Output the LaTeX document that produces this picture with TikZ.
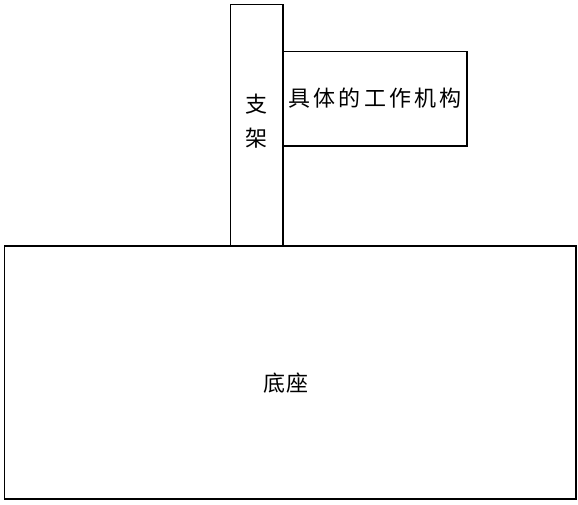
\documentclass[tikz,border=0pt]{standalone}
\usepackage{fontspec}
\newfontfamily\cjk{Noto Sans CJK SC}
\begin{document}
\begin{tikzpicture}[x=1pt,y=-1pt,
  box/.style={draw=black,line width=1.2pt},
  lbl/.style={font=\cjk\fontsize{22}{34}\selectfont,inner sep=0pt,align=center}]
\useasboundingbox (0,0) rectangle (578,504);
\fill[white] (0,0) rectangle (578,504);
\draw[box] (230.5,246) rectangle (283,4.5);
\draw[box] (283,51.5) rectangle (467,146);
\draw[box] (4.5,246) rectangle (576,499);
\node[lbl] (stand) at (256.5,121) {支\\架};
\node[lbl] (mech) at (375,98) {具\hspace{3.3pt}体\hspace{3.3pt}的\hspace{3.3pt}工\hspace{3.3pt}作\hspace{3.3pt}机\hspace{3.3pt}构};
\node[lbl] (base) at (286,383) {底\hspace{2pt}座};
\end{tikzpicture}
\end{document}
